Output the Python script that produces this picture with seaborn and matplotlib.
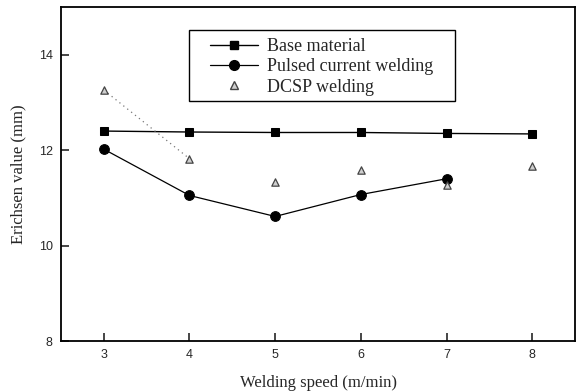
import matplotlib
matplotlib.use("Agg")
import matplotlib.pyplot as plt
import seaborn as sns
import pandas as pd
from matplotlib.lines import Line2D
from matplotlib.patches import Rectangle

speed = [3, 4, 5, 6, 7, 8]
base_material = [12.40, 12.38, 12.37, 12.37, 12.35, 12.34]
speed_pulsed = [3, 4, 5, 6, 7]
pulsed_current = [12.02, 11.05, 10.61, 11.07, 11.40]
dcsp_welding = [13.26, 11.82, 11.33, 11.59, 11.26, 11.67]
y_ticks = [8, 10, 12, 14]
x_ticks = [3, 4, 5, 6, 7, 8]
labels = ["Base material", "Pulsed current welding", "DCSP welding"]

sns.set_style("ticks")
plt.rcParams["font.family"] = ["Liberation Serif", "DejaVu Serif"]

fig = plt.figure(figsize=(5.76, 3.92), dpi=100)
ax = fig.add_axes([61 / 576, 1 - 341 / 392, 514 / 576, 334 / 392])

df_base = pd.DataFrame({"x": speed, "y": base_material})
df_pulsed = pd.DataFrame({"x": speed_pulsed, "y": pulsed_current})
df_dcsp = pd.DataFrame({"x": speed, "y": dcsp_welding})

sns.lineplot(data=df_base, x="x", y="y", ax=ax, color="black", lw=1.0,
             marker="s", markersize=6, markeredgecolor="black")
sns.lineplot(data=df_pulsed, x="x", y="y", ax=ax, color="black", lw=0.9,
             marker="o", markersize=7, markeredgecolor="black")
# faint dotted trace of DCSP between first two points
sns.lineplot(data=df_dcsp.iloc[:2], x="x", y="y", ax=ax, color="#777777",
             lw=0.9, linestyle=(0, (1, 3)))
sns.scatterplot(data=df_dcsp, x="x", y="y", ax=ax, marker="^", s=28,
                color="#cfcfcf", edgecolor="#444444", linewidth=0.9, zorder=4)

ax.set_xlim(2.5, 8.5)
ax.set_ylim(8, 15)
ax.set_xticks(x_ticks)
ax.set_yticks(y_ticks)
ax.tick_params(direction="in", length=5.5, width=1.2, labelsize=9)
ax.tick_params(axis="x", pad=5.5)
ax.tick_params(axis="y", pad=6)
for lab in ax.get_xticklabels() + ax.get_yticklabels():
    lab.set_fontfamily("Liberation Sans")
for s in ax.spines.values():
    s.set_linewidth(1.3)
    s.set_color("black")

ax.set_xlabel("Welding speed (m/min)", fontsize=12, labelpad=10)
ax.set_ylabel("Erichsen value (mm)", fontsize=12, labelpad=9)

# legend frame
ax.add_patch(Rectangle((0.249, 0.719), 0.767 - 0.249, 0.931 - 0.719,
                       transform=ax.transAxes, fill=True, facecolor="white",
                       edgecolor="black", lw=1.0, zorder=5))
handles = [
    Line2D([], [], color="black", lw=1.0, marker="s", markersize=6),
    Line2D([], [], color="black", lw=0.9, marker="o", markersize=7),
    Line2D([], [], color="#cfcfcf", lw=0, marker="^", markersize=5.5,
           markeredgecolor="#444444"),
]
leg = ax.legend(handles, labels, loc="upper left",
                bbox_to_anchor=(0.290, 0.906), fontsize=13,
                frameon=False, borderpad=0, borderaxespad=0,
                handlelength=2.65, labelspacing=0.17, handletextpad=0.5)
leg.set_zorder(6)

fig.savefig("out.png", dpi=100)
